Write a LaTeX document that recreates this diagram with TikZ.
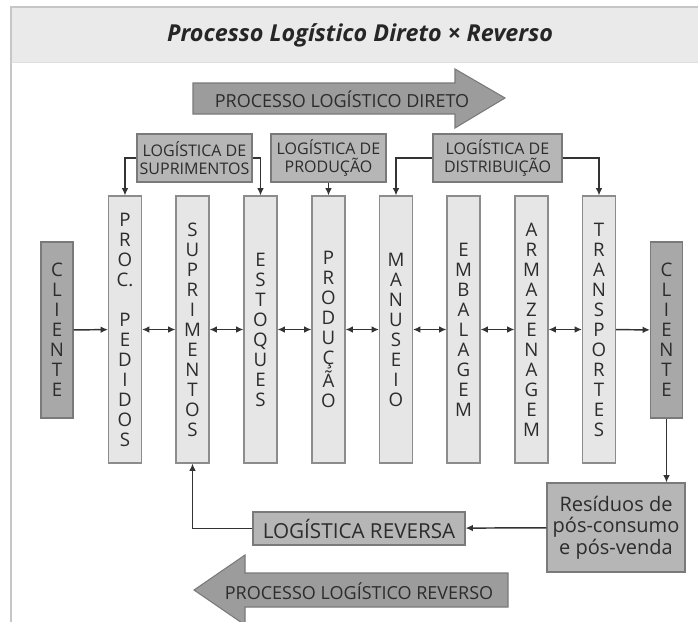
\documentclass[tikz,border=0pt]{standalone}
\usepackage{fontspec}
\setmainfont{Open Sans}
\usepackage{xcolor}
\usepackage{tikz}
\usetikzlibrary{
  arrows.meta,
  positioning
}
\definecolor{inktext}{HTML}{2C2C2C}
\definecolor{inkline}{HTML}{333333}
\definecolor{colfill}{HTML}{E6E6E6}
\definecolor{coledge}{HTML}{8C8C8C}
\definecolor{boxfill}{HTML}{B6B6B6}
\definecolor{boxedge}{HTML}{7A7A7A}
\definecolor{clifill}{HTML}{A8A8A8}
\definecolor{bigfill}{HTML}{9C9C9C}
\definecolor{bandfill}{HTML}{EAEAEA}

\begin{document}
\begin{tikzpicture}[x=0.75pt,y=-0.75pt,
  every node/.append style={text=inktext},
  colbox/.style={draw=coledge,fill=colfill,line width=0.8pt,minimum width=24.75pt,
    minimum height=200.25pt,inner sep=0pt,align=center,
    font=\fontsize{14}{15}\selectfont},
  clibox/.style={colbox,fill=clifill,draw=boxedge,minimum width=24pt,minimum height=132pt},
  labbox/.style={draw=boxedge,fill=boxfill,line width=0.8pt,inner sep=0pt,align=center,
    minimum height=36pt,font=\fontsize{12}{13.5}\selectfont},
  link/.style={draw=inkline,line width=1.1pt,-{Latex[length=5.5pt,width=5pt]}},
  bigarrow/.style={draw=boxedge,fill=bigfill,line width=0.8pt}]
  \useasboundingbox (0,0) rectangle (698,621);
  \clip (0,0) rectangle (698,621);
  % frame and title band
  \fill[bandfill] (11,7) rectangle (700,62);
  \draw[gray!45,line width=0.8pt] (11,640) -- (11,7) -- (700,7);
  \draw[gray!25,line width=0.6pt] (11,62) -- (700,62);
  \node[font=\fontsize{17.5}{20}\selectfont\bfseries\itshape,text=black!85] (title) at (360,35)
    {Processo Logístico Direto × Reverso};
  % big arrows
  \draw[bigarrow] (193,83) -- (455,83) -- (455,69) -- (505,98) -- (455,128) -- (455,114)
    -- (193,114) -- cycle;
  \node[font=\fontsize{13.5}{15}\selectfont] (dirtxt) at (342,99) {PROCESSO LOGÍSTICO DIRETO};
  \draw[bigarrow] (508,573) -- (245,573) -- (245,555) -- (194,590) -- (245,625) -- (245,607)
    -- (508,607) -- cycle;
  \node[font=\fontsize{13.5}{15}\selectfont] (revtxt) at (359,591) {PROCESSO LOGÍSTICO REVERSO};
  % columns
  \node[clibox] (cli1) at (57,330) {C\\L\\I\\E\\N\\T\\E};
  \node[clibox] (cli2) at (666.5,330) {C\\L\\I\\E\\N\\T\\E};
  \node[colbox] (proc) at (125,329.5) {P\\R\\O\\C.\\[15pt]P\\E\\D\\I\\D\\O\\S};
  \node[colbox] (supr) at (192.5,329.5) {S\\U\\P\\R\\I\\M\\E\\N\\T\\O\\S};
  \node[colbox] (esto) at (260.5,329.5) {E\\S\\T\\O\\Q\\U\\E\\S};
  \node[colbox] (prod) at (328.5,329.5) {P\\R\\O\\D\\U\\Ç\\Ã\\O};
  \node[colbox] (manu) at (396,329.5) {M\\A\\N\\U\\S\\E\\I\\O};
  \node[colbox] (emba) at (463.5,329.5) {E\\M\\B\\A\\L\\A\\G\\E\\M};
  \node[colbox] (arma) at (531.5,329.5) {A\\R\\M\\A\\Z\\E\\N\\A\\G\\E\\M};
  \node[colbox] (tran) at (599,329.5) {T\\R\\A\\N\\S\\P\\O\\R\\T\\E\\S};
  % flow between columns
  \draw[link] (cli1) -- (proc);
  \foreach \a/\b in {proc/supr,supr/esto,esto/prod,prod/manu,manu/emba,emba/arma,arma/tran}{
    \draw[link,{Latex[length=5.5pt,width=5pt]}-{Latex[length=5.5pt,width=5pt]}] (\a) -- (\b);
  }
  \draw[link] (tran) -- (cli2);
  % logistics areas
  \node[labbox,minimum width=86.25pt] (lsup) at (194.5,158) {LOGÍSTICA DE\\SUPRIMENTOS};
  \node[labbox,minimum width=86.25pt] (lpro) at (328.5,158) {LOGÍSTICA DE\\PRODUÇÃO};
  \node[labbox,minimum width=96.75pt] (ldis) at (497.5,158) {LOGÍSTICA DE\\DISTRIBUIÇÃO};
  \draw[link] (lsup.west) -| (proc.north);
  \draw[link] (lsup.east) -| (esto.north);
  \draw[link] (lpro) -- (prod);
  \draw[link] (ldis.west) -| (manu.north);
  \draw[link] (ldis.east) -| (tran.north);
  % reverse flow
  \node[labbox,minimum width=103.5pt,minimum height=66.75pt,
    font=\fontsize{15}{16.3}\selectfont] (resi) at (616,527.5)
    {Resíduos de\\pós-consumo\\e pós-venda};
  \node[labbox,minimum width=159pt,minimum height=24.75pt,
    font=\fontsize{15.5}{17}\selectfont] (lrev) at (359,528.5) {LOGÍSTICA REVERSA};
  \draw[link] (cli2.south) -- (cli2.south |- resi.north);
  \draw[link] (resi) -- (lrev);
  \draw[link] (lrev.west) -| (supr.south);
\end{tikzpicture}
\end{document}
